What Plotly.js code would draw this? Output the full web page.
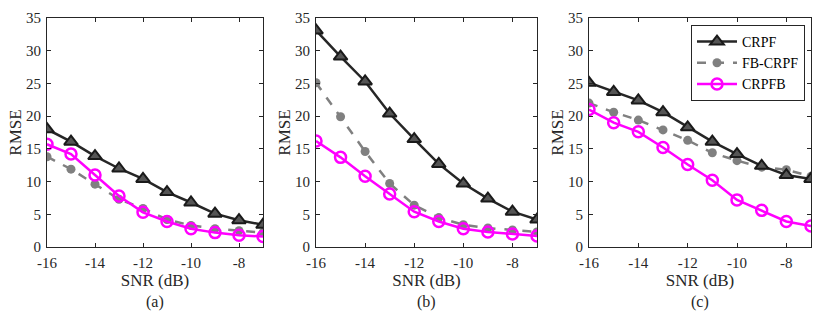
<!DOCTYPE html>
<html>
<head>
<meta charset="utf-8">
<script src="https://cdn.plot.ly/plotly-3.0.1.min.js"></script>
<style>
  html, body { margin: 0; padding: 0; background: #fff; }
  #chart { width: 831px; height: 321px; }
</style>
</head>
<body>
<div id="chart"></div>
<script>
// SNR values (dB), shared by all three panels
const snr = [-16, -15, -14, -13, -12, -11, -10, -9, -8, -7];
const xTickVals = [-16, -14, -12, -10, -8];
const xTickText = ['-16', '-14', '-12', '-10', '-8'];
const yTickVals = [0, 5, 10, 15, 20, 25, 30, 35];

// panel (a)
const crpfA   = [18.0, 16.1, 13.9, 12.0, 10.4, 8.4, 6.8, 5.1, 4.1, 3.4];
const fbA     = [13.8, 11.9, 9.6, 7.3, 5.9, 4.2, 3.3, 2.8, 2.5, 2.2];
const crpfbA  = [15.7, 14.2, 11.0, 7.8, 5.3, 3.9, 2.8, 2.2, 1.8, 1.6];

// panel (b)
const crpfB   = [33.1, 29.1, 25.3, 20.4, 16.5, 12.7, 9.7, 7.4, 5.4, 4.2];
const fbB     = [25.1, 19.9, 14.6, 9.7, 6.4, 4.5, 3.4, 2.9, 2.6, 2.3];
const crpfbB  = [16.2, 13.7, 10.8, 8.1, 5.4, 3.9, 2.8, 2.3, 2.0, 1.7];

// panel (c)
const crpfC   = [25.1, 23.7, 22.4, 20.6, 18.3, 16.1, 14.2, 12.4, 11.0, 10.4];
const fbC     = [22.0, 20.6, 19.4, 17.9, 16.3, 14.4, 13.2, 12.2, 11.8, 10.8];
const crpfbC  = [21.0, 19.0, 17.6, 15.2, 12.6, 10.2, 7.2, 5.6, 3.9, 3.2];

const panels = [
    { crpf: crpfA, fb: fbA, crpfb: crpfbA, label: '(a)' },
    { crpf: crpfB, fb: fbB, crpfb: crpfbB, label: '(b)' },
    { crpf: crpfC, fb: fbC, crpfb: crpfbC, label: '(c)' }
];

const W = 831, H = 321;
// plot area edges in pixels
const plotLefts = [47, 316, 589];
const plotRights = [263, 537, 811];
const plotTop = 18, plotBottom = 247;

const serif = '"Liberation Serif", "Times New Roman", serif';
const tickFont = { family: serif, size: 15, color: '#262626' };
const titleFont = { family: serif, size: 17, color: '#262626' };

const traces = [];
const layout = {
    width: W,
    height: H,
    margin: { l: 0, r: 0, t: 0, b: 0 },
    paper_bgcolor: '#fff',
    plot_bgcolor: '#fff',
    font: tickFont,
    showlegend: true,
    legend: {
        x: 805 / W, xanchor: 'right',
        y: 1 - 25 / H, yanchor: 'top',
        bgcolor: '#fff',
        bordercolor: '#262626',
        borderwidth: 1,
        font: { family: serif, size: 14, color: '#000' },
        tracegroupgap: 0,
        itemwidth: 40
    },
    annotations: []
};

panels.forEach((p, i) => {
    const n = i === 0 ? '' : String(i + 1);
    const xa = 'x' + n, ya = 'y' + n;
    const show = i === 2;

    traces.push({
        x: snr, y: p.fb, xaxis: xa, yaxis: ya,
        name: 'FB-CRPF', legendrank: 2, showlegend: show,
        mode: 'lines+markers',
        line: { color: '#808080', width: 2.5, dash: 'dash' },
        marker: { symbol: 'circle', size: 9, color: '#808080' }
    });
    traces.push({
        x: snr, y: p.crpf, xaxis: xa, yaxis: ya,
        name: 'CRPF', legendrank: 1, showlegend: show,
        mode: 'lines+markers',
        line: { color: '#262626', width: 2.5 },
        marker: { symbol: 'triangle-up', size: 12, color: '#555', line: { color: '#1a1a1a', width: 2 } }
    });
    traces.push({
        x: snr, y: p.crpfb, xaxis: xa, yaxis: ya,
        name: 'CRPFB', legendrank: 3, showlegend: show,
        mode: 'lines+markers',
        line: { color: '#ff00ff', width: 2.5 },
        marker: { symbol: 'circle-open', size: 11, color: '#ff00ff', line: { color: '#ff00ff', width: 2.5 } }
    });

    layout['xaxis' + n] = {
        domain: [plotLefts[i] / W, plotRights[i] / W],
        anchor: ya,
        range: [-16, -7],
        tickvals: xTickVals,
        ticktext: xTickText,
        ticks: 'inside', ticklen: 4, tickcolor: '#262626',
        showline: true, linecolor: '#262626', linewidth: 1, mirror: 'ticks',
        showgrid: false, zeroline: false,
        tickfont: tickFont,
        ticklabelstandoff: 2,
        title: { text: 'SNR (dB)', font: titleFont, standoff: 3 }
    };
    layout['yaxis' + n] = {
        domain: [1 - plotBottom / H, 1 - plotTop / H],
        anchor: xa,
        range: [0, 35],
        tickvals: yTickVals,
        ticks: 'inside', ticklen: 4, tickcolor: '#262626',
        showline: true, linecolor: '#262626', linewidth: 1, mirror: 'ticks',
        showgrid: false, zeroline: false,
        tickfont: tickFont,
        ticklabelstandoff: 2,
        title: { text: 'RMSE', font: titleFont, standoff: 0 }
    };
    layout.annotations.push({
        text: p.label,
        xref: 'paper', yref: 'paper',
        x: (plotLefts[i] + plotRights[i]) / 2 / W, y: 1 - 302 / H,
        xanchor: 'center', yanchor: 'middle',
        showarrow: false, font: { family: serif, size: 16, color: '#262626' }
    });
});

Plotly.newPlot('chart', traces, layout, { displayModeBar: false, staticPlot: true });
</script>
</body>
</html>
